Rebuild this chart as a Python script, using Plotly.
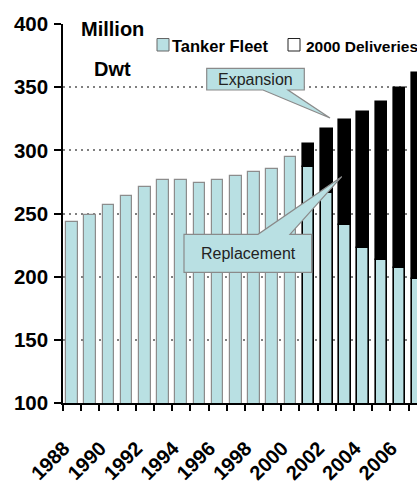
import plotly.graph_objects as go

# Tanker fleet (million dwt) by year; from 2001 the light part is the
# surviving fleet, the dark cap is the total fleet incl. new deliveries.
years = list(range(1988, 2008))
fleet = [243.5, 248.5, 256.5, 264, 271, 276.5, 276.5, 274.5, 276.5, 279.5,
         282.5, 285.5, 294.5, 287, 266.5, 241, 223, 213, 206.5, 198]
delivery_years = list(range(2001, 2008))
total_with_deliveries = [305, 316.5, 324, 330, 338, 349.5, 361.5]

y_ticks = [100, 150, 200, 250, 300, 350, 400]
x_label_years = list(range(1988, 2007, 2))

LIGHT = "#b9e0e3"
BOLD = "Liberation Sans, Arial, sans-serif"
REG = "Liberation Sans, Arial, sans-serif"

# plot-area geometry in pixels
L, T, W, H = 63, 24, 354, 379


def px(x):
    return (x - L) / W


def py(y):
    return (T + H - y) / H


first_new = years.index(delivery_years[0])
outline = ["#8c8c8c"] * first_new + ["#000000"] * (len(years) - first_new)
outline_w = [1.2] * first_new + [1.6] * (len(years) - first_new)

fig = go.Figure()
fig.add_trace(go.Bar(
    x=years, y=fleet, width=0.64, name="Tanker Fleet",
    marker=dict(color=LIGHT, line=dict(color=outline, width=outline_w)),
    showlegend=False,
))
base = fleet[first_new:]
fig.add_trace(go.Bar(
    x=delivery_years, base=base,
    y=[t - b for t, b in zip(total_with_deliveries, base)],
    width=0.64, name="2000 Deliveries",
    marker=dict(color="#000000", line=dict(color="#000000", width=1.6)),
    showlegend=False,
))

shapes = []
annotations = []

# white panel behind the legend hides the top gridline
shapes.append(dict(type="rect", xref="paper", yref="paper", layer="above",
                   x0=px(147), x1=px(420), y0=py(31), y1=py(17),
                   fillcolor="white", line=dict(width=0)))


def callout(x0, y0, x1, y1, pl, pr, tip, on_top):
    if on_top:
        pts = [(x0, y0), (pl, y0), tip, (pr, y0), (x1, y0), (x1, y1), (x0, y1)]
    else:
        pts = [(x0, y0), (x1, y0), (x1, y1), (pr, y1), tip, (pl, y1), (x0, y1)]
    path = "M " + " L ".join(f"{px(a):.5f},{py(b):.5f}" for a, b in pts) + " Z"
    return dict(type="path", xref="paper", yref="paper", layer="above", path=path,
                fillcolor=LIGHT, line=dict(color="#8a8a8a", width=1.2))


shapes.append(callout(206.7, 68.3, 304.3, 90, 263, 288, (330, 118), False))
shapes.append(callout(184, 234.3, 311.7, 272.3, 258, 290, (341.7, 176.7), True))

annotations.append(dict(text="Expansion", x=px(255.5), y=py(79.5), xref="paper", yref="paper",
                        showarrow=False, xanchor="center", yanchor="middle",
                        font=dict(family=REG, size=16, color="#222222")))
annotations.append(dict(text="Replacement", x=px(248), y=py(253.5), xref="paper", yref="paper",
                        showarrow=False, xanchor="center", yanchor="middle",
                        font=dict(family=REG, size=16, color="#222222")))

# axis title block
for txt, cy in (("Million", 29), ("Dwt", 69)):
    annotations.append(dict(text=txt, x=px(112.5), y=py(cy), xref="paper", yref="paper",
                            showarrow=False, xanchor="center", yanchor="middle",
                            font=dict(family=BOLD, size=20, color="black", weight="bold")))

# legend
for sx, fill, tx, label, fs in ((157, LIGHT, 170, "Tanker Fleet", 16.5),
                                (288, "white", 304, "2000 Deliveries", 15.5)):
    shapes.append(dict(type="rect", xref="paper", yref="paper", layer="above",
                       x0=px(sx), x1=px(sx + 12), y0=py(51), y1=py(38.5),
                       fillcolor=fill, line=dict(color="#222222" if fill == "white" else "#666666", width=1)))
    annotations.append(dict(text=label, x=px(tx), y=py(46), xref="paper", yref="paper",
                            showarrow=False, xanchor="left", yanchor="middle",
                            font=dict(family=BOLD, size=fs, color="black", weight="bold")))

fig.update_layout(
    width=417, height=482,
    margin=dict(l=L, r=417 - L - W, t=T, b=482 - T - H, autoexpand=False),
    paper_bgcolor="white", plot_bgcolor="white",
    barmode="overlay", bargap=0,
    shapes=shapes, annotations=annotations,
    xaxis=dict(
        range=[1987.5, 1987.5 + W / 18.19],
        tickmode="array", tickvals=[y - 0.45 for y in x_label_years],
        ticktext=[str(y) for y in x_label_years],
        ticks="outside", ticklen=0, tickangle=-45,
        ticklabelstandoff=24, automargin=False,
        tickfont=dict(family=BOLD, size=20, color="black", weight="bold"),
        minor=dict(tickmode="array", tickvals=[y - 0.5 for y in years],
                   ticks="outside", ticklen=6, tickwidth=1.5, tickcolor="black",
                   showgrid=False),
        showline=True, linecolor="black", linewidth=1.5,
        showgrid=False, zeroline=False, fixedrange=True,
    ),
    yaxis=dict(
        range=[100, 400], tickmode="array", tickvals=y_ticks,
        ticks="outside", ticklen=7, tickwidth=1.5, tickcolor="black",
        tickfont=dict(family=BOLD, size=20.5, color="black", weight="bold"),
        ticklabelstandoff=2, automargin=False,
        showline=True, linecolor="black", linewidth=1.5,
        showgrid=True, gridcolor="#808080", gridwidth=1.5, griddash="2px,4px",
        zeroline=False, fixedrange=True,
    ),
)

fig.write_html("out.html")
